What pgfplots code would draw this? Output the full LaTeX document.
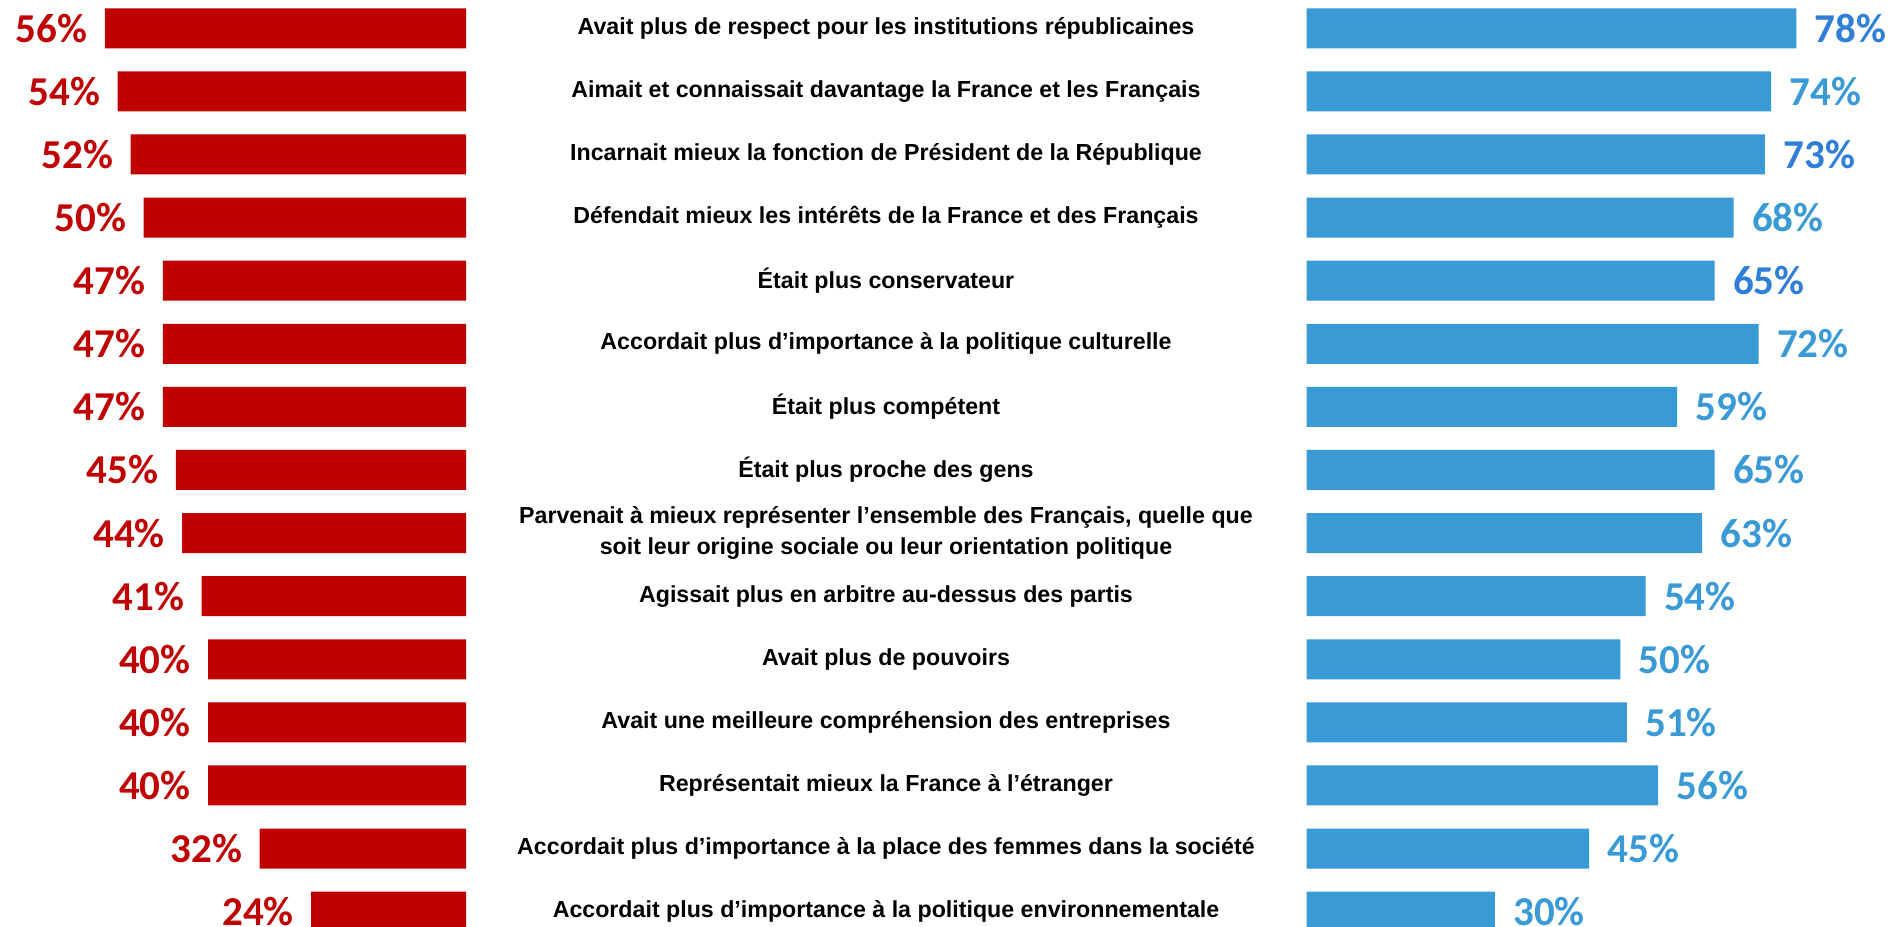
\documentclass[border=0pt]{standalone}
\usepackage{pgfplots}
\usepackage{pgfplotstable}
\pgfplotsset{compat=1.18}
\usepackage{fontspec}
\setmainfont{Liberation Sans}
\newfontfamily\pctfam{Carlito}
\definecolor{redbar}{HTML}{C00000}
\definecolor{bluebar}{HTML}{3A9AD6}
\definecolor{bluedark}{HTML}{2F7ED8}
\newcommand\labfont{\fontsize{9.28pt}{12.4pt}\selectfont\bfseries}
\newcommand\pctfont{\pctfam\fontsize{16.4pt}{19pt}\selectfont\bfseries}

\pgfplotstableread{
y v
0 56
1 54
2 52
3 50
4 47
5 47
6 47
7 45
8 44
9 41
10 40
11 40
12 40
13 32
14 24
}\reddata

\pgfplotstableread{
y v c
0 78 1
1 74 0
2 73 1
3 68 0
4 65 1
5 72 0
6 59 0
7 65 0
8 63 0
9 54 0
10 50 0
11 51 0
12 56 0
13 45 0
14 30 0
}\bluedata

\begin{document}
\begin{tikzpicture}
\path[use as bounding box] (0,0) rectangle (755.2pt,370.8pt);
\clip (0,0) rectangle (755.2pt,370.8pt);

% left (red) axis
\begin{axis}[
  at={(186.4pt,372.1pt)}, anchor=north east,
  scale only axis, width=154.8pt, height=378.6pt,
  xbar, bar width=16pt,
  xmin=0, xmax=60, x dir=reverse,
  ymin=-0.5, ymax=14.5, y dir=reverse,
  xtick=\empty, ytick=\empty,
  axis line style={draw=none}, major tick length=0pt,
  clip=false,
  /pgf/number format/assume math mode=true,
  nodes near coords={\pgfmathprintnumber{\pgfplotspointmeta}\%},
  every node near coord/.append style={font=\pctfont, text=redbar, inner sep=0pt, anchor=east, xshift=-6.8pt},
]
\addplot[fill=redbar, draw=none] table[x=v, y=y] {\reddata};
\end{axis}

% right (blue) axis
\begin{axis}[
  at={(522.6pt,372.1pt)}, anchor=north west,
  scale only axis, width=200.96pt, height=378.6pt,
  xbar, bar width=16pt,
  xmin=0, xmax=80,
  ymin=-0.5, ymax=14.5, y dir=reverse,
  xtick=\empty, ytick={0,...,14},
  yticklabels={
    {Avait plus de respect pour les institutions républicaines},
    {Aimait et connaissait davantage la France et les Français},
    {Incarnait mieux la fonction de Président de la République},
    {Défendait mieux les intérêts de la France et des Français},
    {Était plus conservateur},
    {Accordait plus d’importance à la politique culturelle},
    {Était plus compétent},
    {Était plus proche des gens},
    {Parvenait à mieux représenter l’ensemble des Français, quelle que\\soit leur origine sociale ou leur orientation politique},
    {Agissait plus en arbitre au-dessus des partis},
    {Avait plus de pouvoirs},
    {Avait une meilleure compréhension des entreprises},
    {Représentait mieux la France à l’étranger},
    {Accordait plus d’importance à la place des femmes dans la société},
    {Accordait plus d’importance à la politique environnementale}
  },
  yticklabel style={anchor=center, align=center, font=\labfont, inner sep=0pt, xshift=-168.2pt},
  axis line style={draw=none}, major tick length=0pt,
  clip=false,
  /pgf/number format/assume math mode=true,
  nodes near coords={\ifdim\lc pt>0.5pt\color{bluedark}\else\color{bluebar}\fi\pgfmathprintnumber{\pgfplotspointmeta}\%},
  every node near coord/.append style={font=\pctfont, inner sep=0pt, anchor=west, xshift=7.2pt},
]
\addplot[fill=bluebar, draw=none, visualization depends on={\thisrow{c} \as \lc}] table[x=v, y=y] {\bluedata};
\end{axis}
\end{tikzpicture}
\end{document}
